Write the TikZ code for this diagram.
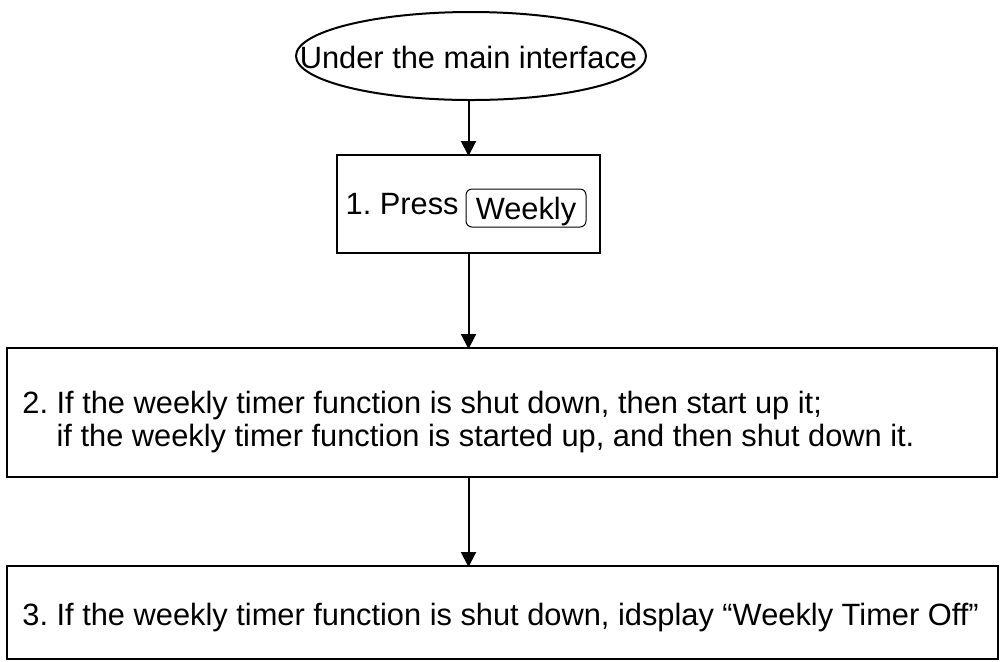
\documentclass[tikz,border=0pt]{standalone}
\usepackage{fontspec}
\setmainfont{Liberation Sans}
\usetikzlibrary{shapes.geometric,arrows.meta}
\tikzset{
  txt/.style={font=\fontsize{15.4}{16.5}\selectfont, inner sep=0pt},
  boxnode/.style={draw, line width=1pt, rectangle, inner sep=0pt},
  btn/.style={draw, line width=0.5pt, rounded corners=3pt, inner sep=0pt, text height=11pt, text depth=0pt, font=\fontsize{15.4}{16.5}\selectfont},
  arr/.style={line width=1pt, -{Triangle[length=7.5pt,width=7.5pt]}, shorten >=-1pt}
}
\begin{document}
\frenchspacing
\begin{tikzpicture}[x=0.5pt,y=-0.5pt]
\useasboundingbox (0,0) rectangle (1000,661);
\node[draw, line width=1pt, ellipse, minimum width=175pt, minimum height=44pt, inner sep=0pt] (ell) at (471,56) {};
\node[txt] (elltext) at (468.5,57) {Under the main interface};
\node[boxnode, minimum width=131.5pt, minimum height=49pt] (box1) at (468.5,204) {};
\node[txt, anchor=east] (press) at (459,204) {1. Press};
\node[btn, minimum width=60pt, minimum height=19pt] (weekly) at (526,208) {Weekly};
\node[boxnode, minimum width=495pt, minimum height=64.5pt] (box2) at (502,412.5) {};
\node[txt, anchor=west, align=left] (t2) at (22,422) {2. If the weekly timer function is shut down, then start up it;\\\phantom{2. }if the weekly timer function is started up, and then shut down it.};
\node[boxnode, minimum width=495.5pt, minimum height=46.5pt] (box3) at (502,612.5) {};
\node[txt, anchor=west] (t3) at (22,618) {3. If the weekly timer function is shut down, idsplay “Weekly Timer Off”};
\draw[arr] (ell.south -| box1.north) -- (box1.north);
\draw[arr] (box1.south) -- (box1.south |- box2.north);
\draw[arr] (box1.south |- box2.south) -- (box1.south |- box3.north);
\end{tikzpicture}
\end{document}
